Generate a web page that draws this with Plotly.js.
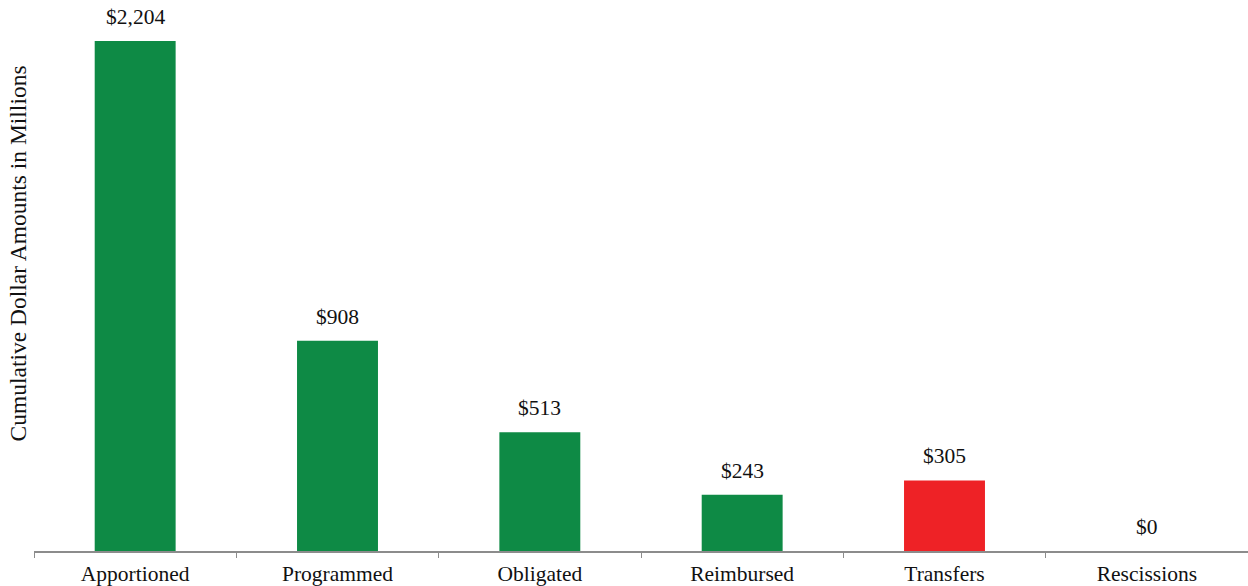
<!DOCTYPE html>
<html><head><meta charset="utf-8">
<script src="https://cdn.plot.ly/plotly-3.0.1.min.js"></script>
<style>html,body{margin:0;padding:0;background:#fff}#chart{width:1248px;height:586px}</style>
</head><body><div id="chart"></div>
<script>
const categories = ["Apportioned","Programmed","Obligated","Reimbursed","Transfers","Rescissions"];
const values = [2204, 908, 513, 243, 305, 0];
const valueLabels = ["$2,204","$908","$513","$243","$305","$0"];
const barColors = ["#0e8a45","#0e8a45","#0e8a45","#0e8a45","#ee2226","#0e8a45"];

const font = "Liberation Serif, Times New Roman, serif";
const trace = {
  type: "bar", x: categories, y: values,
  marker: {color: barColors}, width: 0.4, hoverinfo: "none", cliponaxis: false
};
const annotations = categories.map((c, i) => ({
  x: c, y: values[i], xref: "x", yref: "y", text: valueLabels[i],
  showarrow: false, yanchor: "bottom", yshift: 10,
  font: {family: font, size: 21.5, color: "#111"}
}));
annotations.push({
  xref: "paper", yref: "paper", x: -0.0132, y: 0.54, xanchor: "center", yanchor: "middle",
  text: "Cumulative Dollar Amounts in Millions", textangle: -90, showarrow: false,
  font: {family: font, size: 23.5, color: "#111"}
});
const layout = {
  width: 1248, height: 586,
  margin: {l: 34, r: 0, t: 0, b: 35},
  paper_bgcolor: "#fff", plot_bgcolor: "#fff",
  showlegend: false,
  xaxis: {
    type: "category", showline: true, linecolor: "#8c8c8c", linewidth: 2,
    ticks: "outside", tickson: "boundaries", ticklen: 5, tickcolor: "#8c8c8c", tickwidth: 1,
    ticklabelstandoff: 2,
    tickfont: {family: font, size: 21.5, color: "#111"}, showgrid: false, zeroline: false
  },
  yaxis: {range: [0, 2381], showgrid: false, zeroline: false, showticklabels: false, ticks: "", showline: false, fixedrange: true},
  annotations: annotations
};
Plotly.newPlot("chart", [trace], layout, {displayModeBar: false, staticPlot: true});
</script></body></html>
